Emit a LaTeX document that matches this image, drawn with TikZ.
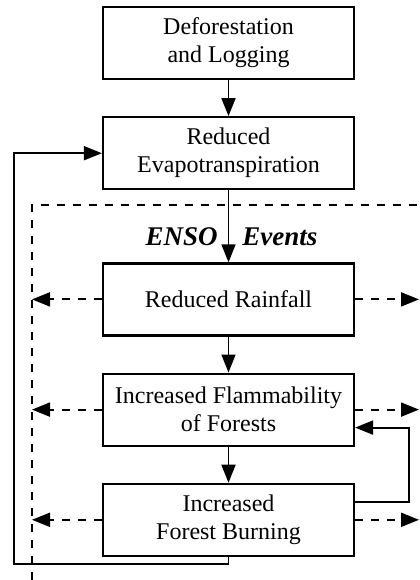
\documentclass[tikz,border=0pt]{standalone}
\usepackage{fontspec}
\setmainfont{Liberation Serif}
\usetikzlibrary{positioning,arrows.meta,calc}

\begin{document}
\begin{tikzpicture}[
  x=0.5pt, y=-0.5pt,
  font=\fontsize{12pt}{14pt}\selectfont,
  node distance=18pt,
  box/.style={
    draw, line width=1.1pt, minimum width=125.5pt, minimum height=36pt,
    inner sep=2pt, align=center
  },
  flow/.style={->, line width=0.9pt},
  enso/.style={dash pattern=on 4pt off 4pt, line width=1pt},
  ensolbl/.style={font=\fontsize{13.5pt}{16pt}\selectfont\bfseries\itshape, inner sep=0pt},
  >={Triangle[length=9pt, width=7pt]}
]
  \useasboundingbox (0,0) rectangle (419,580);

  \node[box] (defor) at (228.5,43) {Deforestation\\and Logging};
  \node[box, below=of defor]      (evapo) {Reduced\\Evapotranspiration};
  \node[box, below=36pt of evapo] (rain)  {Reduced Rainfall};
  \node[box, below=of rain]       (flam)  {Increased Flammability\\of Forests};
  \node[box, below=of flam]       (burn)  {Increased\\Forest Burning};

  % ENSO frame
  \coordinate (frameTL) at (32,205);
  \coordinate (frameTR) at (419,205);
  \coordinate (frameBL) at (32,580);
  \draw[enso] (frameBL) -- (frameTL) -- (frameTR);

  \node[ensolbl, anchor=base east] (ensoL) at (218,245) {ENSO};
  \node[ensolbl, anchor=base west] (ensoR) at (242,245) {Events};

  \draw[flow] (defor) -- (evapo);
  \draw[flow] (evapo) -- (rain);
  \draw[flow] (rain)  -- (flam);
  \draw[flow] (flam)  -- (burn);

  \draw[enso, ->] (rain.west) -- (rain.west -| frameTL);
  \draw[enso, ->] (rain.east) -- (rain.east -| frameTR);
  \draw[enso, ->] (flam.west) -- (flam.west -| frameTL);
  \draw[enso, ->] (flam.east) -- (flam.east -| frameTR);
  \draw[enso, ->] (burn.west) -- (burn.west -| frameTL);
  \draw[enso, ->] (burn.east) -- (burn.east -| frameTR);

  % feedback loops
  \coordinate (loopL) at (14,564);
  \draw[flow] (burn.south) |- (loopL) |- (evapo.west);
  \draw[flow] ([yshift=9pt]burn.east) -- ++(27pt,0) |- ([yshift=-9pt]flam.east);
\end{tikzpicture}
\end{document}
